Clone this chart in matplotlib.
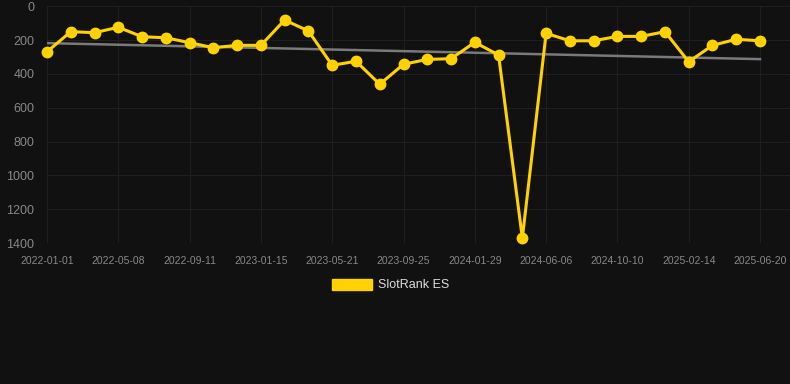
"""SlotRank ES history chart, dark theme with linear trend."""
import matplotlib
matplotlib.use("Agg")
import matplotlib.pyplot as plt
from matplotlib.patches import Patch
import numpy as np

OUT = "out.png"

# rank per sample (lower = better)
RANK = [269, 150, 156, 124, 180, 186, 215, 245, 231, 231,
        81, 146, 349, 325, 461, 343, 314, 310, 213, 288,
        1371, 160, 204, 204, 178, 178, 150, 328, 231, 195, 204]
# labels shown every 3rd sample
TICK_LABELS = ["2022-01-01", "2022-05-08", "2022-09-11", "2023-01-15",
               "2023-05-21", "2023-09-25", "2024-01-29", "2024-06-06",
               "2024-10-10", "2025-02-14", "2025-06-20"]
Y_TICKS = [0, 200, 400, 600, 800, 1000, 1200, 1400]

BG = "#111111"
GOLD = "#FFD200"

plt.rcParams["font.family"] = ["Liberation Sans", "DejaVu Sans"]


def main():
    x = np.arange(len(RANK))
    y = np.array(RANK, dtype=float)
    k, b = np.polyfit(x, y, 1)

    fig = plt.figure(figsize=(7.9, 3.84), dpi=100, facecolor=BG)
    ax = fig.add_axes([47 / 790, 1 - 243 / 384, 743 / 790, 236.7 / 384])
    ax.set_facecolor(BG)

    ax.plot(x, k * x + b, color="#7a7a7a", lw=1.8, zorder=2)
    ax.plot(x, y, "-o", color=GOLD, lw=2.2, ms=7.5, zorder=3,
            solid_joinstyle="round", clip_on=False)

    ax.set_ylim(1400, 0)
    ax.set_xlim(0, (790 - 47) / ((760 - 47) / 30))
    ax.set_yticks(Y_TICKS)
    ax.set_xticks(x[::3])
    ax.set_xticklabels(TICK_LABELS)
    ax.tick_params(axis="y", colors="#888888", labelsize=9, length=0, pad=9)
    ax.tick_params(axis="x", colors="#888888", labelsize=7.5, length=0, pad=9)
    ax.grid(True, color="#1f1f1f", lw=0.8, zorder=0)
    for s in ax.spines.values():
        s.set_visible(False)

    fig.legend(handles=[Patch(color=GOLD, label="SlotRank ES")],
               loc="center", bbox_to_anchor=(0.494, 1 - 285 / 384),
               frameon=False, fontsize=9, labelcolor="#dddddd",
               handlelength=3.2, handleheight=1.0, handletextpad=0.5)

    fig.savefig(OUT, dpi=100, facecolor=BG)


if __name__ == "__main__":
    main()
